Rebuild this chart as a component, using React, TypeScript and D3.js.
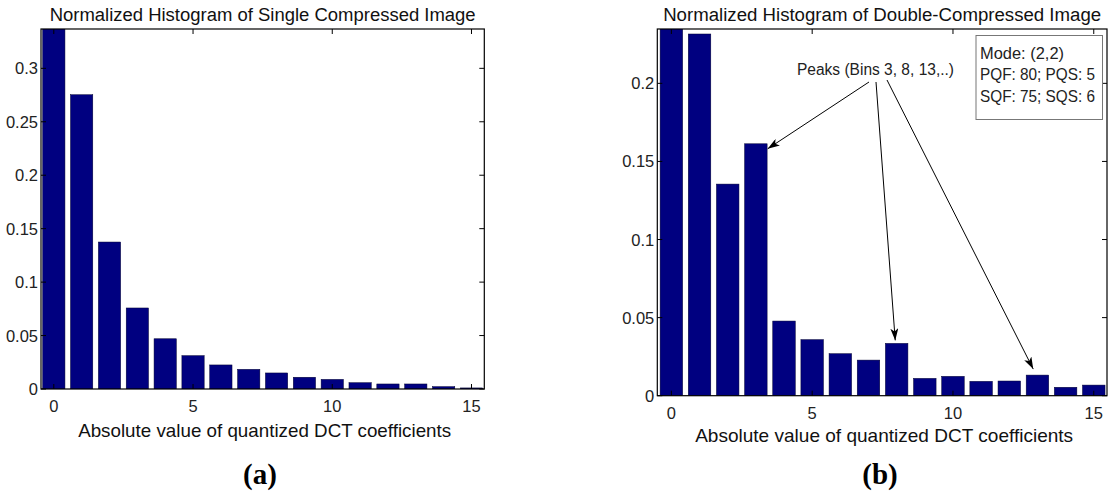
import React from "react";
import * as d3 from "d3";

const bins = [0, 1, 2, 3, 4, 5, 6, 7, 8, 9, 10, 11, 12, 13, 14, 15];
const singleValues = [0.34, 0.2753, 0.1375, 0.0758, 0.047, 0.0312, 0.0225, 0.0184, 0.015, 0.011, 0.009, 0.0059, 0.0047, 0.0047, 0.0022, 0.001];
const doubleValues = [0.24, 0.2316, 0.1355, 0.1613, 0.0478, 0.0359, 0.0269, 0.0228, 0.0335, 0.0111, 0.0124, 0.0092, 0.0094, 0.0132, 0.0054, 0.0068];
const singleYTicks = [0, 0.05, 0.1, 0.15, 0.2, 0.25, 0.3];
const doubleYTicks = [0, 0.05, 0.1, 0.15, 0.2];
const xTicks = [0, 5, 10, 15];
const titleA = "Normalized Histogram of Single Compressed Image";
const titleB = "Normalized Histogram of Double-Compressed Image";
const xLabel = "Absolute value of quantized DCT coefficients";
const legendLines = ["Mode: (2,2)", "PQF: 80; PQS: 5", "SQF: 75; SQS: 6"];
const legendWidths = [84, 115, 115];
const peakLabel = "Peaks (Bins 3, 8, 13,..)";
const peakBins = [3, 8, 13];

const FONT = '"Liberation Sans", Arial, Helvetica, sans-serif';
const BAR = "#000080";

type PanelProps = {
  id: string;
  left: number; right: number; top: number; bottom: number;
  xDomain: [number, number];
  yMax: number;
  values: number[];
  yTicks: number[];
  title: string; titleWidth: number;
  xLabelWidth: number; xLabelY: number;
  panelLabel: string; panelLabelX: number;
  annotate?: boolean;
};

function Panel(p: PanelProps) {
  const x = d3.scaleLinear().domain(p.xDomain).range([p.left, p.right]);
  const y = d3.scaleLinear().domain([0, p.yMax]).range([p.bottom, p.top]);
  const bw = 0.8;
  const fmt = (v: number) => (v === 0 ? "0" : d3.format("~g")(v));
  const cx = (p.left + p.right) / 2;
  const tick = 5;
  const tips = p.annotate
    ? [
        { bx: x(peakBins[0] + 0.42), by: y(p.values[peakBins[0]]) + 5, sx: 869, sy: 82 },
        { bx: x(peakBins[1] - 0.05), by: y(p.values[peakBins[1]]) - 3, sx: 876, sy: 82 },
        { bx: x(peakBins[2] - 0.15), by: y(p.values[peakBins[2]]) - 6, sx: 887, sy: 80 },
      ]
    : [];
  return (
    <g>
      <defs>
        <clipPath id={`clip-${p.id}`}>
          <rect x={p.left} y={p.top} width={p.right - p.left} height={p.bottom - p.top} />
        </clipPath>
        <marker id={`arrow-${p.id}`} viewBox="0 0 12 8" refX="12" refY="4" markerWidth="12" markerHeight="8" markerUnits="userSpaceOnUse" orient="auto">
          <path d="M0,0 L12,4 L0,8 L3,4 z" fill="#000" />
        </marker>
      </defs>
      <g clipPath={`url(#clip-${p.id})`}>
        {bins.map((b, i) => (
          <rect
            key={b}
            x={x(b - bw / 2)}
            y={y(p.values[i])}
            width={x(b + bw / 2) - x(b - bw / 2)}
            height={p.bottom - y(p.values[i])}
            fill={BAR}
            stroke="#000030"
            strokeWidth={0.5}
          />
        ))}
      </g>
      <rect x={p.left} y={p.top} width={p.right - p.left} height={p.bottom - p.top} fill="none" stroke="#000" strokeWidth={1.2} />
      {p.yTicks.map((t) => (
        <g key={t}>
          <line x1={p.left} x2={p.left + tick} y1={y(t)} y2={y(t)} stroke="#000" />
          <line x1={p.right} x2={p.right - tick} y1={y(t)} y2={y(t)} stroke="#000" />
          <text x={p.left - 3} y={y(t) + 6} textAnchor="end" fontSize={16.5} fontFamily={FONT} fill="#222">
            {fmt(t)}
          </text>
        </g>
      ))}
      {xTicks.map((t) => (
        <g key={t}>
          <line x1={x(t)} x2={x(t)} y1={p.bottom} y2={p.bottom - tick} stroke="#000" />
          <line x1={x(t)} x2={x(t)} y1={p.top} y2={p.top + tick} stroke="#000" />
          <text x={x(t)} y={p.bottom + 23} textAnchor="middle" fontSize={16.5} fontFamily={FONT} fill="#222">
            {t}
          </text>
        </g>
      ))}
      <text x={cx} y={21} textAnchor="middle" fontSize={18} fontFamily={FONT} fill="#111" textLength={p.titleWidth} lengthAdjust="spacingAndGlyphs">
        {p.title}
      </text>
      <text x={cx + 2} y={p.xLabelY} textAnchor="middle" fontSize={18.5} fontFamily={FONT} fill="#111" textLength={p.xLabelWidth} lengthAdjust="spacingAndGlyphs">
        {xLabel}
      </text>
      <text x={p.panelLabelX} y={484} textAnchor="middle" fontSize={29} fontWeight="bold" fontFamily='"Liberation Serif", "Times New Roman", serif' fill="#000">
        {p.panelLabel}
      </text>
      {p.annotate && (
        <g>
          <text x={797} y={75} fontSize={16} fontFamily={FONT} fill="#222" textLength={157} lengthAdjust="spacingAndGlyphs">
            {peakLabel}
          </text>
          {tips.map((a, i) => (
            <line key={i} x1={a.sx} y1={a.sy} x2={a.bx} y2={a.by} stroke="#000" strokeWidth={1} markerEnd={`url(#arrow-${p.id})`} />
          ))}
          <rect x={976} y={35.5} width={126.5} height={84} fill="#fff" stroke="#777" strokeWidth={1} />
          {legendLines.map((l, i) => (
            <text key={l} x={980} y={58.5 + i * 21.8} fontSize={16.5} fontFamily={FONT} fill="#222" textLength={legendWidths[i]} lengthAdjust="spacingAndGlyphs">
              {l}
            </text>
          ))}
        </g>
      )}
    </g>
  );
}

export default function App() {
  return (
    <svg width={1108} height={493} style={{ position: "absolute", left: 0, top: 0, background: "#fff" }}>
      <rect x={0} y={0} width={1108} height={493} fill="#fff" />
      <Panel
        id="a"
        left={41} right={484.3} top={29} bottom={389}
        xDomain={[-0.46, 15.46]}
        yMax={0.3368}
        values={singleValues}
        yTicks={singleYTicks}
        title={titleA} titleWidth={426}
        xLabelWidth={373} xLabelY={437}
        panelLabel="(a)" panelLabelX={260}
      />
      <Panel
        id="b"
        left={657.3} right={1107} top={29} bottom={395.7}
        xDomain={[-0.5, 15.47]}
        yMax={0.2348}
        values={doubleValues}
        yTicks={doubleYTicks}
        title={titleB} titleWidth={438}
        xLabelWidth={378} xLabelY={442}
        panelLabel="(b)" panelLabelX={880}
        annotate
      />
    </svg>
  );
}
